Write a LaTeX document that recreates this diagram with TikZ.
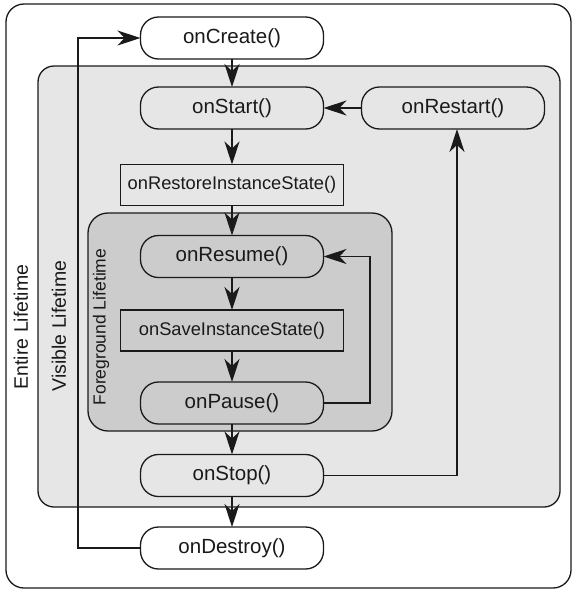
\documentclass[tikz,border=0pt]{standalone}
\usepackage{fontspec}
\setmainfont{Liberation Sans}
\usetikzlibrary{arrows.meta}
\definecolor{lightbg}{HTML}{E6E6E6}
\definecolor{darkbg}{HTML}{CCCCCC}
\definecolor{ink}{HTML}{1A1A1A}
\begin{document}
\begin{tikzpicture}[x=1pt,y=-1pt,
  every node/.style={inner sep=0pt, outer sep=0pt, text=ink},
  >={Stealth[length=23pt,width=15pt,inset=7pt]},
  line/.style={draw=ink, line width=1.3pt},
  pill/.style={line, rounded corners=18pt, minimum width=183pt, minimum height=42pt, font=\fontsize{20.5}{24}\selectfont},
  rect/.style={line, minimum width=223pt, minimum height=41pt, font=\fontsize{18.3}{22}\selectfont},
  region/.style={line},
  lbl/.style={rotate=90, font=\fontsize{19.5}{23}\selectfont},
  flbl/.style={rotate=90, font=\fontsize{17.5}{21}\selectfont}
]
\useasboundingbox (0,0) rectangle (575,592);
% lifetime regions
\draw[region, fill=white, rounded corners=18pt] (6,4) rectangle (571,588);
\draw[region, fill=lightbg, rounded corners=16pt] (38,66) rectangle (560,507);
\draw[region, fill=darkbg, rounded corners=20pt] (88,213) rectangle (392,431);
\node[lbl] (entire) at (21,327) {Entire Lifetime};
\node[lbl] (visible) at (59,326) {Visible Lifetime};
\node[flbl] (fore) at (101,327) {Foreground Lifetime};
% states
\node[pill, fill=white] (create) at (232,38) {onCreate()};
\node[pill, fill=lightbg] (start) at (232,108) {onStart()};
\node[pill, fill=lightbg] (restart) at (453,108) {onRestart()};
\node[rect, fill=lightbg] (restore) at (232,185) {onRestoreInstanceState()};
\node[pill, fill=darkbg] (resume) at (232,256.5) {onResume()};
\node[rect, fill=darkbg] (save) at (232,330.5) {onSaveInstanceState()};
\node[pill, fill=darkbg] (pause) at (232,403) {onPause()};
\node[pill, fill=lightbg] (stop) at (232,475.5) {onStop()};
\node[pill, fill=white] (destroy) at (232,548) {onDestroy()};
% helper coordinates
\coordinate (leftloop) at (78,300);
\coordinate (fgloop) at (370,330);
% connectors
\draw[line, ->] (create) -- (start);
\draw[line, ->] (restart) -- (start);
\draw[line, ->] (start) -- (restore);
\draw[line, ->] (restore) -- (resume);
\draw[line, ->] (resume) -- (save);
\draw[line, ->] (save) -- (pause);
\draw[line, ->] (pause) -- (stop);
\draw[line, ->] (stop) -- (destroy);
\draw[line, ->] (pause.east) -| (fgloop) |- (resume.east);
\draw[line, ->] (stop.east) -| ([xshift=4pt]restart.south);
\draw[line, ->] (destroy.west) -| (leftloop) |- (create.west);
\end{tikzpicture}
\end{document}
